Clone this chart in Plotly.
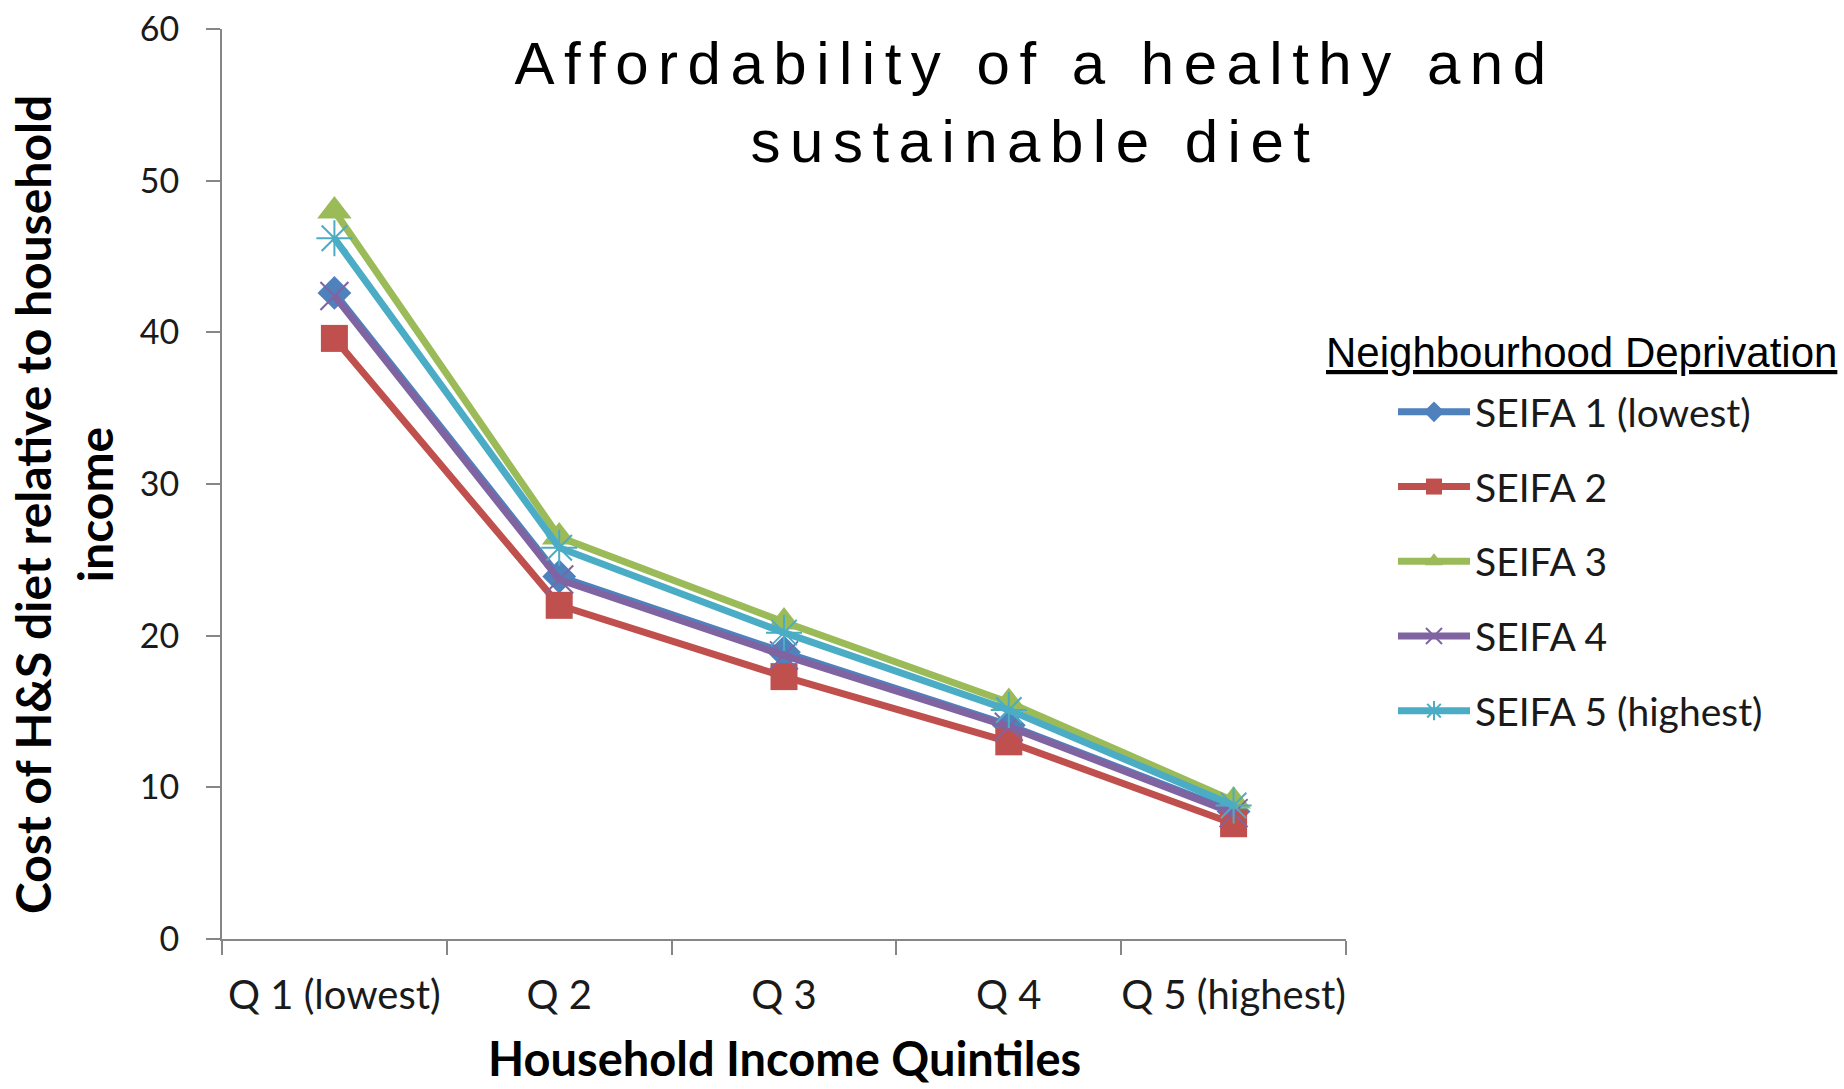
import plotly.graph_objects as go

quintiles = ["Q 1 (lowest)", "Q 2", "Q 3", "Q 4", "Q 5 (highest)"]
series_names = ["SEIFA 1 (lowest)", "SEIFA 2", "SEIFA 3", "SEIFA 4", "SEIFA 5 (highest)"]
seifa1 = [42.6, 23.9, 18.9, 14.1, 8.4]
seifa2 = [39.6, 22.0, 17.3, 13.0, 7.6]
seifa3 = [48.0, 26.5, 20.9, 15.6, 9.1]
seifa4 = [42.4, 23.7, 18.7, 14.0, 8.3]
seifa5 = [46.2, 25.8, 20.2, 15.1, 8.8]
y_ticks = [0, 10, 20, 30, 40, 50, 60]

series_values = [seifa1, seifa2, seifa3, seifa4, seifa5]
colors = ["#4F81BD", "#C0504D", "#9BBB59", "#8064A2", "#4BACC6"]
symbols = ["diamond", "square", "triangle-up", "x-thin-open", "asterisk-open"]
sizes = [26, 27, 30, 28, 30]

fig = go.Figure()
for name, vals, col, sym, sz in zip(series_names, series_values, colors, symbols, sizes):
    open_sym = sym.endswith("open")
    fig.add_trace(go.Scatter(
        x=quintiles, y=vals, name=name, mode="lines+markers",
        legendgroup=name,
        line=dict(color=col, width=7),
        marker=dict(symbol=sym, size=sz, color=col,
                    line=dict(color=col, width=2 if open_sym else 0)),
    ))

axis_grey = "#868686"
LS = "letter-spacing:9.5px"
fig.update_layout(
    width=1844, height=1089,
    margin=dict(l=222, r=498, t=29, b=150, autoexpand=False),
    paper_bgcolor="white", plot_bgcolor="white",
    showlegend=True,
    title=dict(
        text=f"<span style='{LS}'>Affordability of a healthy and</span><br><span style='{LS}'>sustainable diet</span>",
        font=dict(family="Liberation Sans, Arial", size=60, color="black"),
        x=1035 / 1844, xanchor="center", xref="container",
        y=1 - 84 / 1089, yanchor="top", yref="container",
    ),
    xaxis=dict(
        type="category", range=[-0.5, 4.5], tickson="boundaries",
        showline=True, linecolor=axis_grey, linewidth=2,
        ticks="outside", ticklen=14, tickwidth=2, tickcolor=axis_grey,
        showgrid=False, zeroline=False, tickangle=0, automargin=False,
        tickfont=dict(family="Lato", size=40, color="#1a1a1a"),
        ticklabelstandoff=20,
    ),
    yaxis=dict(
        range=[0, 60], tickvals=y_ticks, ticktext=[str(v) for v in y_ticks],
        showline=True, linecolor=axis_grey, linewidth=2,
        ticks="outside", ticklen=14, tickwidth=2, tickcolor=axis_grey,
        showgrid=False, zeroline=False, automargin=False,
        tickfont=dict(family="Lato", size=34, color="#1a1a1a"),
        ticklabelstandoff=20,
    ),
    legend=dict(
        font=dict(family="Lato", size=39, color="#1a1a1a"),
        xref="container", yref="container",
        x=1393 / 1844, xanchor="left", y=1 - 380 / 1089, yanchor="top",
        traceorder="grouped", tracegroupgap=21, itemwidth=72,
        bgcolor="rgba(0,0,0,0)",
    ),
    annotations=[
        dict(text="Cost of H&S diet relative to household<br>income", textangle=-90,
             xref="paper", yref="paper", x=(64 - 222) / 1124, y=(939 - 505) / 910,
             xanchor="center", yanchor="middle", showarrow=False,
             font=dict(family="Lato", size=48, color="black", weight="bold")),
        dict(text="Household Income Quintiles",
             xref="paper", yref="paper", x=0.5, y=(939 - 1088) / 910,
             xanchor="center", yanchor="bottom", showarrow=False,
             font=dict(family="Lato", size=47, color="black", weight="bold")),
        dict(text="<u>Neighbourhood Deprivation</u>",
             xref="paper", yref="paper", x=(1324 - 222) / 1124, y=(939 - 353) / 910,
             xanchor="left", yanchor="middle", showarrow=False,
             font=dict(family="Liberation Sans, Arial", size=42, color="black")),
    ],
)

fig.write_html("out.html")
